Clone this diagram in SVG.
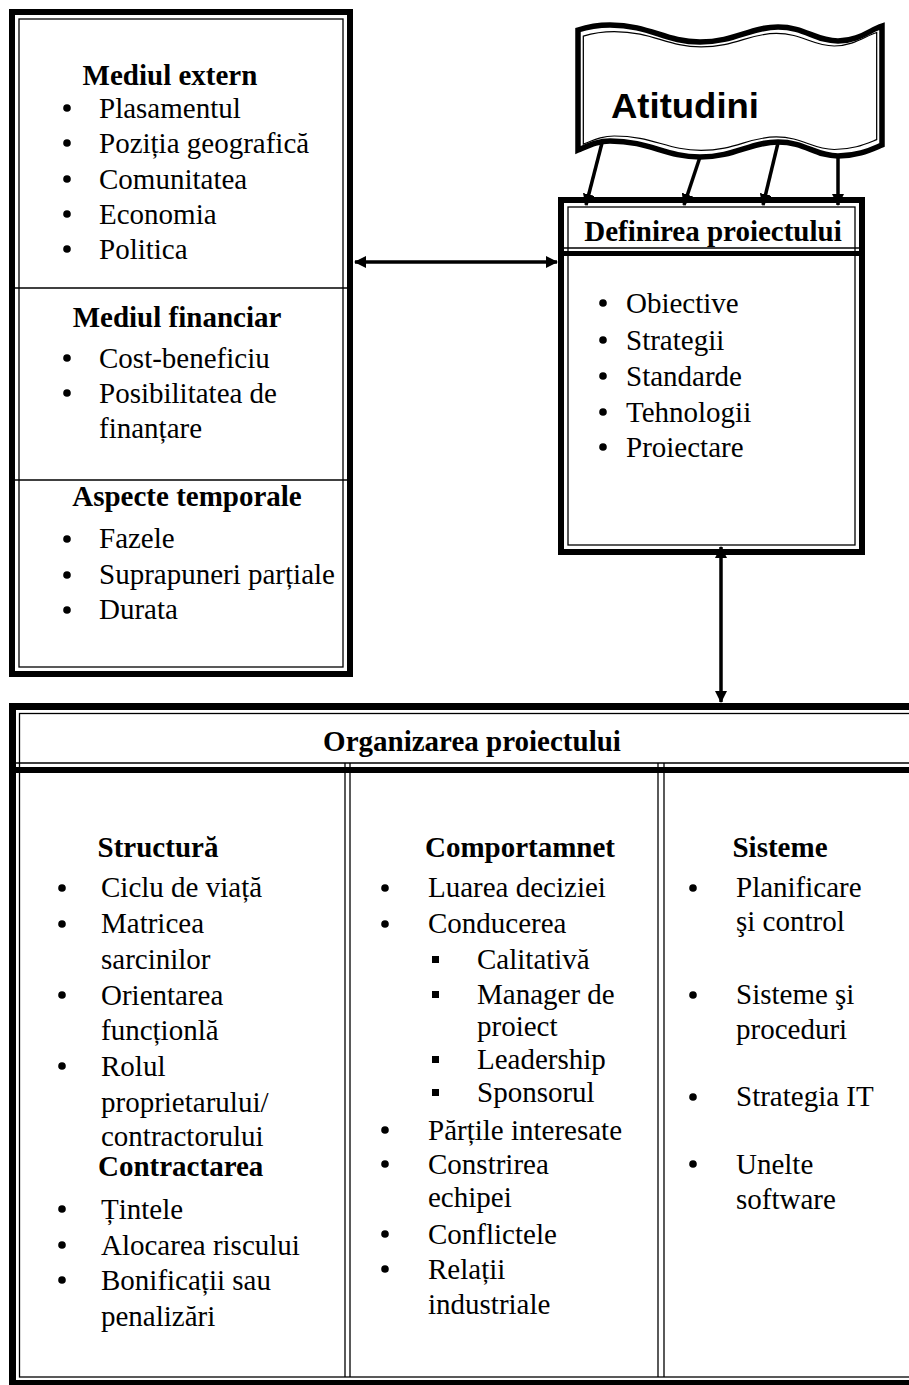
<svg xmlns="http://www.w3.org/2000/svg" width="909" height="1385" viewBox="0 0 909 1385">
  <defs>
    <style>
      .t { font-family: "Liberation Serif", "Times New Roman", serif; font-size: 29px; fill: #000; }
      .b { font-weight: bold; }
      .m { text-anchor: middle; }
      .thick { fill: none; stroke: #000; }
      .thin { fill: none; stroke: #000; stroke-width: 1.3; }
      .dot { fill: #000; }
      .conn { stroke: #000; stroke-width: 3.5; fill: none; }
    </style>
    <marker id="head" viewBox="0 0 12 12" refX="11" refY="6" markerWidth="12" markerHeight="12" markerUnits="userSpaceOnUse" orient="auto-start-reverse">
      <path d="M0,0 L12,6 L0,12 Z" fill="#000"/>
    </marker>
    <path id="tape" d="M578,30 C590,26 598,25 610,25 C650,25 665,42 700,42 C735,42 750,27 778,27 C805,27 815,41 838,41 C858,41 870,30 882,26 L882,145 C870,150 858,156 838,156 C815,156 805,142 778,142 C750,142 735,157 700,157 C665,157 650,141 610,141 C598,141 590,145 578,150 Z"/>
  </defs>

  <rect width="909" height="1385" fill="#fff"/>

  <!-- Left panel: environment factors -->
  <g id="mediu">
    <rect x="12" y="12" width="338" height="662" fill="#fff" class="thick" stroke-width="6"/>
    <rect x="19" y="19" width="324" height="648" class="thin"/>
    <line x1="15" y1="288" x2="347" y2="288" class="thin" stroke-width="1.6"/>
    <line x1="15" y1="480" x2="347" y2="480" class="thin" stroke-width="1.6"/>

    <text class="t b m" x="170" y="85">Mediul extern</text>
    <circle class="dot" cx="67" cy="108" r="3.8"/>
    <circle class="dot" cx="67" cy="143" r="3.8"/>
    <circle class="dot" cx="67" cy="179" r="3.8"/>
    <circle class="dot" cx="67" cy="214" r="3.8"/>
    <circle class="dot" cx="67" cy="249" r="3.8"/>
    <text class="t" x="99" y="118">Plasamentul</text>
    <text class="t" x="99" y="153">Poziția geografică</text>
    <text class="t" x="99" y="189">Comunitatea</text>
    <text class="t" x="99" y="224">Economia</text>
    <text class="t" x="99" y="259">Politica</text>

    <text class="t b m" x="177" y="327">Mediul financiar</text>
    <circle class="dot" cx="67" cy="358" r="3.8"/>
    <circle class="dot" cx="67" cy="393" r="3.8"/>
    <text class="t" x="99" y="368">Cost-beneficiu</text>
    <text class="t" x="99" y="403">Posibilitatea de</text>
    <text class="t" x="99" y="438">finanțare</text>

    <text class="t b m" x="187" y="506">Aspecte temporale</text>
    <circle class="dot" cx="67" cy="539" r="3.8"/>
    <circle class="dot" cx="67" cy="575" r="3.8"/>
    <circle class="dot" cx="67" cy="610" r="3.8"/>
    <text class="t" x="99" y="548">Fazele</text>
    <text class="t" x="99" y="584">Suprapuneri parțiale</text>
    <text class="t" x="99" y="619">Durata</text>
  </g>

  <!-- Attitudes banner (punched tape) -->
  <g id="atitudini">
    <use href="#tape" fill="#fff" stroke="#000" stroke-width="5.5"/>
    <use href="#tape" fill="none" stroke="#000" stroke-width="1.3" transform="translate(730 91) scale(0.965 0.9) translate(-730 -91)"/>
    <text x="611" y="118" font-family="Liberation Sans, Arial, sans-serif" font-weight="bold" font-size="35" textLength="148" lengthAdjust="spacingAndGlyphs">Atitudini</text>
  </g>

  <!-- Project definition -->
  <g id="definire">
    <rect x="561" y="200" width="301" height="352" fill="#fff" class="thick" stroke-width="6"/>
    <rect x="568" y="207" width="287" height="338" class="thin"/>
    <line x1="564" y1="248" x2="859" y2="248" class="thin" stroke-width="1.6"/>
    <line x1="564" y1="253.5" x2="859" y2="253.5" class="thick" stroke-width="5"/>
    <text class="t b m" x="713" y="241" font-size="25">Definirea proiectului</text>
    <circle class="dot" cx="603" cy="303" r="3.8"/>
    <circle class="dot" cx="603" cy="340" r="3.8"/>
    <circle class="dot" cx="603" cy="376" r="3.8"/>
    <circle class="dot" cx="603" cy="412" r="3.8"/>
    <circle class="dot" cx="603" cy="447" r="3.8"/>
    <text class="t" x="626" y="313">Obiective</text>
    <text class="t" x="626" y="350">Strategii</text>
    <text class="t" x="626" y="386">Standarde</text>
    <text class="t" x="626" y="422">Tehnologii</text>
    <text class="t" x="626" y="457">Proiectare</text>
  </g>

  <!-- Project organisation -->
  <g id="organizare">
    <rect x="12.5" y="706.5" width="920" height="677" fill="#fff" class="thick" stroke-width="7"/>
    <rect x="19.5" y="713.5" width="910" height="663.5" class="thin"/>
    <line x1="16" y1="763" x2="909" y2="763" class="thin" stroke-width="1.6"/>
    <line x1="16" y1="770" x2="909" y2="770" class="thick" stroke-width="6"/>
    <line x1="345" y1="763" x2="345" y2="1377" class="thin" stroke-width="1.6"/>
    <line x1="350" y1="763" x2="350" y2="1377" class="thin" stroke-width="1.6"/>
    <line x1="658" y1="763" x2="658" y2="1377" class="thin" stroke-width="1.6"/>
    <line x1="664" y1="763" x2="664" y2="1377" class="thin" stroke-width="1.6"/>
    <text class="t b m" x="472" y="751">Organizarea proiectului</text>

    <!-- structure column -->
    <text class="t b m" x="158" y="857">Structură</text>
    <circle class="dot" cx="62" cy="888" r="3.8"/>
    <circle class="dot" cx="62" cy="924" r="3.8"/>
    <circle class="dot" cx="62" cy="995" r="3.8"/>
    <circle class="dot" cx="62" cy="1066" r="3.8"/>
    <circle class="dot" cx="62" cy="1209" r="3.8"/>
    <circle class="dot" cx="62" cy="1245" r="3.8"/>
    <circle class="dot" cx="62" cy="1280" r="3.8"/>
    <text class="t" x="101" y="897">Ciclu de viață</text>
    <text class="t" x="101" y="933">Matricea</text>
    <text class="t" x="101" y="969">sarcinilor</text>
    <text class="t" x="101" y="1005">Orientarea</text>
    <text class="t" x="101" y="1040">funcționlă</text>
    <text class="t" x="101" y="1076">Rolul</text>
    <text class="t" x="101" y="1112">proprietarului/</text>
    <text class="t" x="101" y="1146">contractorului</text>
    <text class="t b" x="98" y="1176">Contractarea</text>
    <text class="t" x="101" y="1219">Țintele</text>
    <text class="t" x="101" y="1255">Alocarea riscului</text>
    <text class="t" x="101" y="1290">Bonificații sau</text>
    <text class="t" x="101" y="1326">penalizări</text>

    <!-- behaviour column -->
    <text class="t b m" x="520" y="857">Comportamnet</text>
    <circle class="dot" cx="385" cy="888" r="3.8"/>
    <circle class="dot" cx="385" cy="924" r="3.8"/>
    <rect class="dot" x="432" y="956" width="7" height="7"/>
    <rect class="dot" x="432" y="991" width="7" height="7"/>
    <rect class="dot" x="432" y="1056" width="7" height="7"/>
    <rect class="dot" x="432" y="1089" width="7" height="7"/>
    <circle class="dot" cx="385" cy="1130" r="3.8"/>
    <circle class="dot" cx="385" cy="1164" r="3.8"/>
    <circle class="dot" cx="385" cy="1234" r="3.8"/>
    <circle class="dot" cx="385" cy="1269" r="3.8"/>
    <text class="t" x="428" y="897">Luarea deciziei</text>
    <text class="t" x="428" y="933">Conducerea</text>
    <text class="t" x="477" y="969">Calitativă</text>
    <text class="t" x="477" y="1004">Manager de</text>
    <text class="t" x="477" y="1036">proiect</text>
    <text class="t" x="477" y="1069">Leadership</text>
    <text class="t" x="477" y="1102">Sponsorul</text>
    <text class="t" x="428" y="1140">Părțile interesate</text>
    <text class="t" x="428" y="1174">Constrirea</text>
    <text class="t" x="428" y="1207">echipei</text>
    <text class="t" x="428" y="1244">Conflictele</text>
    <text class="t" x="428" y="1279">Relații</text>
    <text class="t" x="428" y="1314">industriale</text>

    <!-- systems column -->
    <text class="t b m" x="780" y="857">Sisteme</text>
    <circle class="dot" cx="693" cy="888" r="3.8"/>
    <circle class="dot" cx="693" cy="995" r="3.8"/>
    <circle class="dot" cx="693" cy="1097" r="3.8"/>
    <circle class="dot" cx="693" cy="1164" r="3.8"/>
    <text class="t" x="736" y="897">Planificare</text>
    <text class="t" x="736" y="931">şi control</text>
    <text class="t" x="736" y="1004">Sisteme şi</text>
    <text class="t" x="736" y="1039">proceduri</text>
    <text class="t" x="736" y="1106">Strategia IT</text>
    <text class="t" x="736" y="1174">Unelte</text>
    <text class="t" x="736" y="1209">software</text>
  </g>

  <!-- Connectors -->
  <g id="connectors">
    <line class="conn" x1="355" y1="262" x2="557" y2="262" marker-start="url(#head)" marker-end="url(#head)"/>
    <line class="conn" x1="721" y1="547" x2="721" y2="702" marker-start="url(#head)" marker-end="url(#head)"/>
    <line class="conn" stroke-width="3" x1="602" y1="143" x2="586" y2="205" marker-end="url(#head)"/>
    <line class="conn" stroke-width="3" x1="700" y1="157" x2="684" y2="205" marker-end="url(#head)"/>
    <line class="conn" stroke-width="3" x1="778" y1="143" x2="763" y2="205" marker-end="url(#head)"/>
    <line class="conn" stroke-width="3" x1="838" y1="156" x2="838" y2="205" marker-end="url(#head)"/>
  </g>
</svg>
